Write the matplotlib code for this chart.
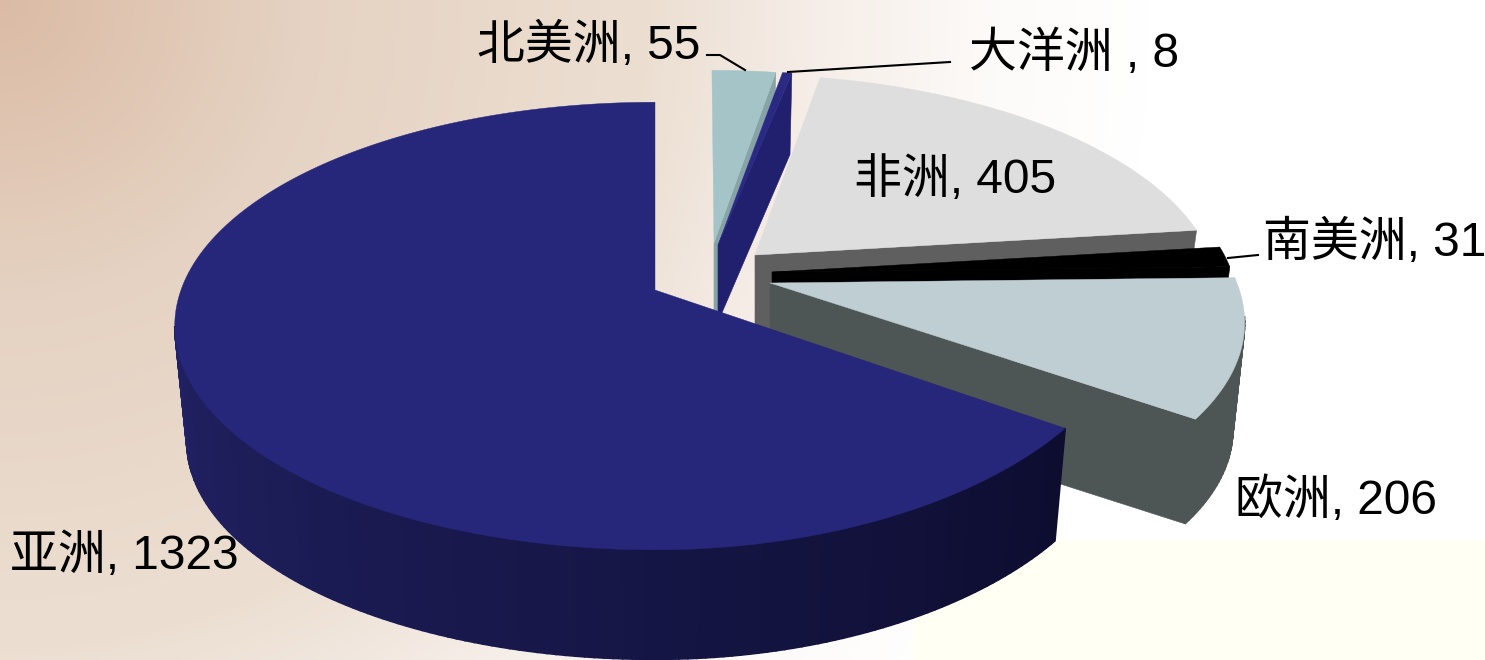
"""Exploded perspective pie: number per continent, drawn back to front."""

import numpy as np
import matplotlib
matplotlib.use("Agg")
import matplotlib.pyplot as plt
from matplotlib.colors import to_rgb

plt.rcParams["font.family"] = ["Liberation Sans", "Noto Sans CJK SC", "DejaVu Sans"]

# data, clockwise from 12 o'clock
names = ["北美洲", "大洋洲 ", "非洲", "南美洲", "欧洲", "亚洲"]
values = [55, 8, 405, 31, 206, 1323]

# slice styles: apex in pixels, radius scale, lean behind/in front of apex, depth
apex_x = [714, 718, 755, 772, 770, 655]
apex_y = [243, 245, 255, 272, 283, 290]
scale = [0.92, 0.93, 0.96, 0.97, 0.985, 1.0]
lean_back = [0.012, 0.0, 0.063, 0.0, 0.0, 0.0]
lean_front = [0.0, 0.0, 0.0, 0.0, 0.043, -0.15]
depth = [77, 77, 80, 90, 108, 116]
top_colors = ["#A4C4C8", "#2A2A85", "#DEDEDE", "#000000", "#BFCED2", "#26267A"]
wall_colors = ["#86A3A5", "#20206E", "#5F5F5F", "#000000", "#4E5655", None]

# label centres and leader lines in pixels
label_x = [589, 1074, 955, 1375, 1336, 124]
label_y = [46, 54, 180, 243, 501, 556]
leaders = [
    ([707, 720, 745], [55, 55, 70]),
    ([950, 788], [62, 72]),
    ([1258, 1228], [255, 258]),
]

# disc perspective
A, B, K = 218.0, 474.0, 0.161
BOTTOM_SCALE = 0.975


def project(theta, i, drop=0.0, shrink=1.0):
    """Map disc angles (degrees clockwise from top) to pixel positions."""
    t = np.radians(theta)
    v = -np.cos(t)
    w = 1 - K * v
    dy = scale[i] * shrink * A * v / w
    # the front lean only acts on the right hand side of the disc
    shift = np.where(dy < 0, lean_back[i] * dy,
                     lean_front[i] * dy * np.maximum(np.sin(t), 0))
    x = apex_x[i] + scale[i] * shrink * B * np.sin(t) / w + shift
    return x, apex_y[i] + drop + dy


def paint_background(ax):
    h, w = 660, 1485
    yy, xx = np.mgrid[0:h, 0:w]
    dist = np.hypot(xx, yy)
    stops = [0, 300, 650, 800, 1000, 1150]
    colors = np.array([to_rgb(c) for c in
                       ["#DBBBA5", "#E5D2C2", "#ECDFD2", "#F5ECE6", "#FDFBF9", "#FFFFFF"]])
    img = np.dstack([np.interp(dist, stops, colors[:, i]) for i in range(3)])
    img[540:, 913:] = to_rgb("#FFFFF3")
    ax.imshow(img, extent=(0, w, h, 0), zorder=0, interpolation="bilinear")


def draw_slice(ax, start, end, i):
    cx, cy, d = apex_x[i], apex_y[i], depth[i]
    n = max(int(end - start), 2) + 1
    theta = np.linspace(start, end, n)
    xt, yt = project(theta, i)
    xb, yb = project(theta, i, d, BOTTOM_SCALE)

    # Asia shows no cut face, the others only the clockwise one
    if wall_colors[i] is not None:
        ax.fill([cx, xt[-1], xb[-1], cx], [cy, yt[-1], yb[-1], cy + d],
                color=wall_colors[i], lw=0.4, zorder=2 + i)

    for j in range(n - 1):
        # back of the rim is hidden by the top
        if -np.cos(np.radians(theta[j + 1])) < K:
            continue
        if wall_colors[i] is None:
            # Asia wall darkens towards the right
            f = np.clip((theta[j] - 125) / 145, 0, 1)
            c = np.array(to_rgb("#0D0D30")) * (1 - f) + np.array(to_rgb("#232368")) * f
        else:
            c = wall_colors[i]
        ax.fill([xt[j], xt[j + 1], xb[j + 1], xb[j]],
                [yt[j], yt[j + 1], yb[j + 1], yb[j]],
                color=c, lw=1.2, zorder=2 + i)

    ax.fill(np.r_[cx, xt], np.r_[cy, yt], color=top_colors[i], lw=0.3, zorder=2 + i)


fig = plt.figure(figsize=(14.85, 6.6), dpi=100)
ax = fig.add_axes([0, 0, 1, 1])
paint_background(ax)

edges = np.r_[0, np.cumsum(values)] / np.sum(values) * 360
for i in range(len(values)):
    draw_slice(ax, edges[i], edges[i + 1], i)

for xs, ys in leaders:
    ax.plot(xs, ys, color="black", lw=1.5, zorder=10)

for i, name in enumerate(names):
    ax.text(label_x[i], label_y[i], f"{name}, {values[i]}", fontsize=34.5,
            ha="center", va="center", color="black", zorder=11)

ax.set_xlim(0, 1485)
ax.set_ylim(660, 0)
ax.axis("off")
fig.savefig("out.png", dpi=100)
plt.close(fig)
